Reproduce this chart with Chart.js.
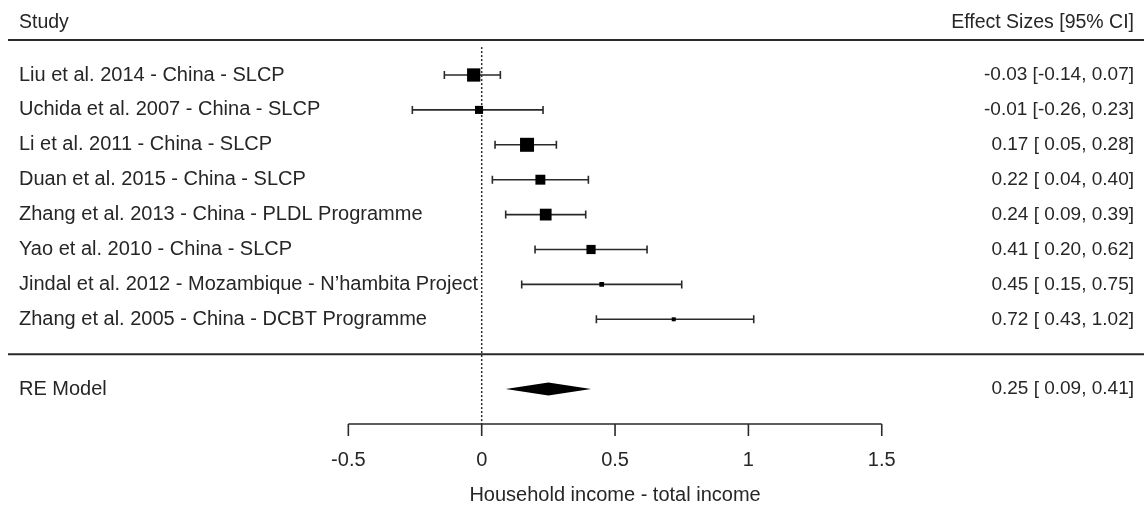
<!DOCTYPE html>
<html>
<head>
<meta charset="utf-8">
<script src="https://cdn.jsdelivr.net/npm/chart.js@4.4.1/dist/chart.umd.min.js"></script>
<style>
  html, body { margin: 0; padding: 0; background: #fff; }
  canvas { display: block; }
</style>
</head>
<body>
<canvas id="c" width="1144" height="506"></canvas>
<script>
// ---- data ----
const studies = [
  "Liu et al. 2014 - China - SLCP",
  "Uchida et al. 2007 - China - SLCP",
  "Li et al. 2011 - China - SLCP",
  "Duan et al. 2015 - China - SLCP",
  "Zhang et al. 2013 - China - PLDL Programme",
  "Yao et al. 2010 - China - SLCP",
  "Jindal et al. 2012 - Mozambique - N\u2019hambita Project",
  "Zhang et al. 2005 - China - DCBT Programme"
];
const estimates = [-0.03, -0.01, 0.17, 0.22, 0.24, 0.41, 0.45, 0.72];
const ciLower   = [-0.14, -0.26, 0.05, 0.04, 0.09, 0.20, 0.15, 0.43];
const ciUpper   = [ 0.07,  0.23, 0.28, 0.40, 0.39, 0.62, 0.75, 1.02];
const weights   = [17.5, 10.5, 18.5, 13, 15.5, 12, 6, 5];   // relative weights (box size)
const summaryLabel = "RE Model";
const summaryEstimate = 0.25, summaryLower = 0.09, summaryUpper = 0.41;
const xTicks = [-0.5, 0, 0.5, 1, 1.5];
const xTickLabels = ["-0.5", "0", "0.5", "1", "1.5"];
const xTitle = "Household income - total income";
const headerLeft = "Study";
const headerRight = "Effect Sizes [95% CI]";

// ---- helpers ----
function fmt(v) { return v.toFixed(2); }
function fmtCI(e, l, u) {
  const ls = l < 0 ? fmt(l) : " " + fmt(l);
  return fmt(e) + " [" + ls + ", " + fmt(u) + "]";
}
const wMin = Math.min(...weights), wMax = Math.max(...weights);
const boxSide = weights.map(w => 4 + (w - wMin) / (wMax - wMin) * 10);

const FAMILY = '"Liberation Sans", Arial, sans-serif';
const FONT_LABEL = '20px ' + FAMILY;
const FONT_RIGHT = '19px ' + FAMILY;
const FONT_HEAD = '19.5px ' + FAMILY;
const TXT = '#262626';
const LINE = '#2a2a2a';

const forestPlugin = {
  id: 'forest',
  beforeDatasetsDraw(chart) {
    const ctx = chart.ctx, xs = chart.scales.x, ys = chart.scales.y;
    ctx.save();
    // reference line at 0
    ctx.strokeStyle = LINE; ctx.lineWidth = 1.5; ctx.setLineDash([2, 2]);
    ctx.beginPath();
    ctx.moveTo(xs.getPixelForValue(0), ys.getPixelForValue(-0.8));
    ctx.lineTo(xs.getPixelForValue(0), ys.getPixelForValue(10));
    ctx.stroke();
    ctx.setLineDash([]);
    // CI whiskers
    ctx.lineWidth = 1.6; ctx.strokeStyle = LINE;
    for (let i = 0; i < estimates.length; i++) {
      const y = ys.getPixelForValue(i);
      const x1 = xs.getPixelForValue(ciLower[i]), x2 = xs.getPixelForValue(ciUpper[i]);
      ctx.beginPath();
      ctx.moveTo(x1, y); ctx.lineTo(x2, y);
      ctx.moveTo(x1, y - 4); ctx.lineTo(x1, y + 4);
      ctx.moveTo(x2, y - 4); ctx.lineTo(x2, y + 4);
      ctx.stroke();
    }
    // summary diamond
    const yr = ys.getPixelForValue(9);
    ctx.fillStyle = '#000';
    ctx.beginPath();
    ctx.moveTo(xs.getPixelForValue(summaryLower), yr);
    ctx.lineTo(xs.getPixelForValue(summaryEstimate), yr - 6.5);
    ctx.lineTo(xs.getPixelForValue(summaryUpper), yr);
    ctx.lineTo(xs.getPixelForValue(summaryEstimate), yr + 6.5);
    ctx.closePath();
    ctx.fill();
    ctx.restore();
  },
  afterDraw(chart) {
    const ctx = chart.ctx, xs = chart.scales.x, ys = chart.scales.y;
    const W = chart.width;
    ctx.save();
    ctx.fillStyle = TXT; ctx.textBaseline = 'middle';
    // headers
    ctx.font = FONT_HEAD;
    ctx.textAlign = 'left';
    ctx.fillText(headerLeft, 19, ys.getPixelForValue(-1.5));
    ctx.textAlign = 'right';
    ctx.fillText(headerRight, 1134, ys.getPixelForValue(-1.5));
    // horizontal rules
    ctx.strokeStyle = LINE; ctx.lineWidth = 2;
    ctx.beginPath();
    ctx.moveTo(8, ys.getPixelForValue(-1)); ctx.lineTo(W, ys.getPixelForValue(-1));
    ctx.moveTo(8, ys.getPixelForValue(8)); ctx.lineTo(W, ys.getPixelForValue(8));
    ctx.stroke();
    // study labels and CI text
    for (let i = 0; i < studies.length; i++) {
      const y = ys.getPixelForValue(i);
      ctx.font = FONT_LABEL; ctx.textAlign = 'left';
      ctx.fillText(studies[i], 19, y);
      ctx.font = FONT_RIGHT; ctx.textAlign = 'right';
      ctx.fillText(fmtCI(estimates[i], ciLower[i], ciUpper[i]), 1134, y);
    }
    const yr = ys.getPixelForValue(9);
    ctx.font = FONT_LABEL; ctx.textAlign = 'left';
    ctx.fillText(summaryLabel, 19, yr);
    ctx.font = FONT_RIGHT; ctx.textAlign = 'right';
    ctx.fillText(fmtCI(summaryEstimate, summaryLower, summaryUpper), 1134, yr);
    // x axis
    const ya = ys.getPixelForValue(10);
    ctx.lineWidth = 1.6;
    ctx.beginPath();
    ctx.moveTo(xs.getPixelForValue(xTicks[0]), ya);
    ctx.lineTo(xs.getPixelForValue(xTicks[xTicks.length - 1]), ya);
    xTicks.forEach(t => {
      const x = xs.getPixelForValue(t);
      ctx.moveTo(x, ya); ctx.lineTo(x, ya + 12);
    });
    ctx.stroke();
    ctx.font = FONT_LABEL; ctx.textAlign = 'center';
    xTicks.forEach((t, i) => {
      ctx.fillText(xTickLabels[i], xs.getPixelForValue(t), ys.getPixelForValue(11.05));
    });
    ctx.fillText(xTitle, xs.getPixelForValue(0.5), ys.getPixelForValue(12.05));
    ctx.restore();
  }
};

new Chart(document.getElementById('c'), {
  type: 'scatter',
  data: {
    datasets: [{
      data: estimates.map((v, i) => ({ x: v, y: i })),
      pointStyle: 'rect',
      pointRadius: boxSide.map(s => s / Math.SQRT2),
      pointHoverRadius: boxSide.map(s => s / Math.SQRT2),
      backgroundColor: '#000',
      borderWidth: 0
    }]
  },
  options: {
    responsive: false,
    animation: false,
    devicePixelRatio: 1,
    layout: { padding: 0, autoPadding: false },
    plugins: { legend: { display: false }, tooltip: { enabled: false } },
    scales: {
      x: { type: 'linear', display: false, min: -1.8061, max: 2.4833 },
      y: { type: 'linear', display: false, reverse: true, min: -2.149, max: 12.35 }
    }
  },
  plugins: [forestPlugin]
});
</script>
</body>
</html>
